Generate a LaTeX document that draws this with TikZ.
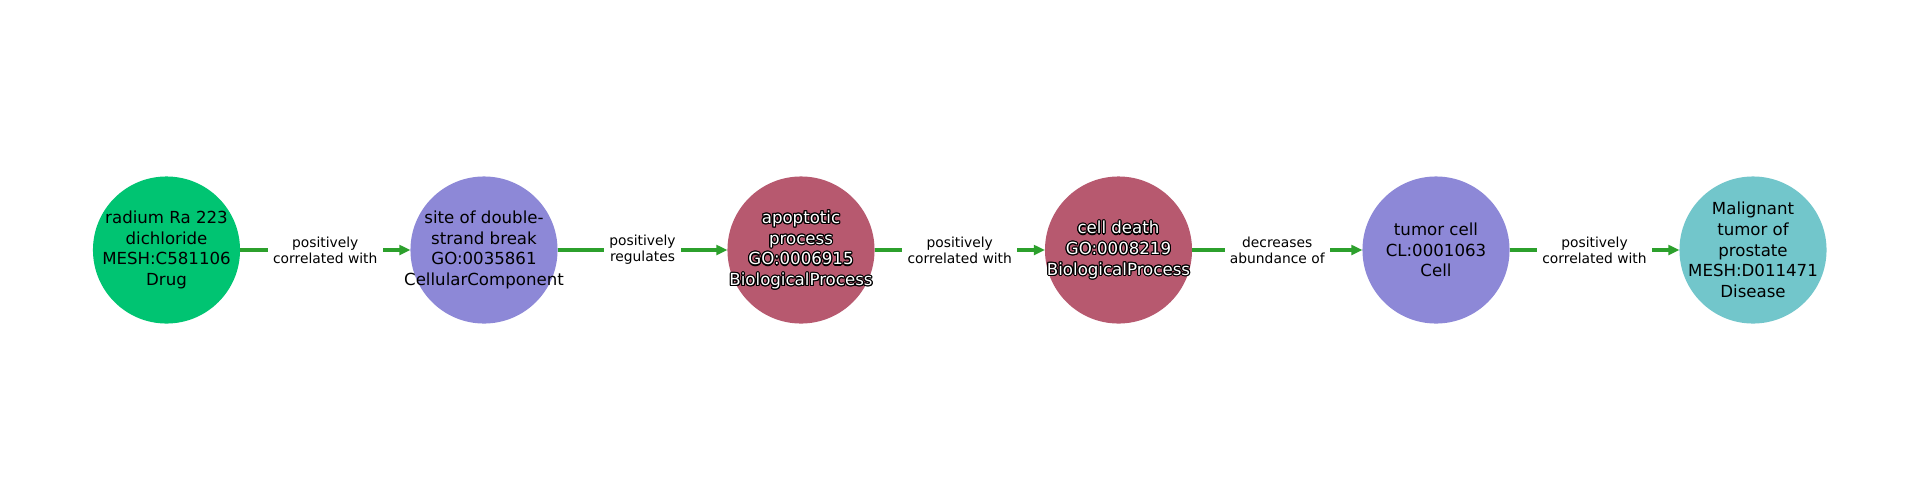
\documentclass[tikz,border=0pt]{standalone}
\usepackage{fontspec}
\setmainfont{DejaVu Sans}
\usetikzlibrary{arrows.meta}
\definecolor{cdrug}{RGB}{0,196,114}
\definecolor{ccomp}{RGB}{141,136,215}
\definecolor{cproc}{RGB}{183,89,111}
\definecolor{cdis}{RGB}{114,198,203}
\definecolor{cedge}{RGB}{44,160,44}
\tikzset{
  ent/.style={circle, minimum size=1.47in, inner sep=0pt, outer sep=0pt, draw=none},
  ntext/.style={align=center, inner sep=0pt, font=\fontsize{12}{15}\selectfont},
  edge/.style={draw=cedge, line width=2.2pt, -{Triangle[length=8pt,width=7pt]}},
  elabel/.style={fill=white, align=center, inner xsep=3.8pt, inner ysep=3pt, text=black, font=\fontsize{10}{11.8}\selectfont}
}
\newcommand{\outlinedtext}[2]{%
  \foreach \ang in {0,30,...,330}{\node[ntext, text=black, shift={(\ang:0.85pt)}] at (#1) {#2};}%
  \node[ntext, text=white] at (#1) {#2};}
\begin{document}
\begin{tikzpicture}[x=0.01in, y=-0.01in]
\useasboundingbox[fill=white] (0,0) rectangle (1920,500);
\node[ent, fill=cdrug] (n1) at (166.5,250) {};
\node[ent, fill=ccomp] (n2) at (484,250) {};
\node[ent, fill=cproc] (n3) at (801,250) {};
\node[ent, fill=cproc] (n4) at (1118.5,250) {};
\node[ent, fill=ccomp] (n5) at (1436,250) {};
\node[ent, fill=cdis] (n6) at (1753,250) {};
\node[ntext] (t1) at (n1) {radium Ra 223\\dichloride\\MESH:C581106\\Drug};
\node[ntext] (t2) at (n2) {site of double-\\strand break\\GO:0035861\\CellularComponent};
\outlinedtext{n3}{apoptotic\\process\\GO:0006915\\BiologicalProcess}
\outlinedtext{n4}{cell death\\GO:0008219\\BiologicalProcess}
\node[ntext] (t5) at (n5) {tumor cell\\CL:0001063\\Cell};
\node[ntext] (t6) at (n6) {Malignant\\tumor of\\prostate\\MESH:D011471\\Disease};
\draw[edge] (n1) -- node[elabel] (e1) {positively\\correlated with} (n2);
\draw[edge] (n2) -- node[elabel] (e2) {positively\\regulates} (n3);
\draw[edge] (n3) -- node[elabel] (e3) {positively\\correlated with} (n4);
\draw[edge] (n4) -- node[elabel] (e4) {decreases\\abundance of} (n5);
\draw[edge] (n5) -- node[elabel] (e5) {positively\\correlated with} (n6);
\end{tikzpicture}
\end{document}
